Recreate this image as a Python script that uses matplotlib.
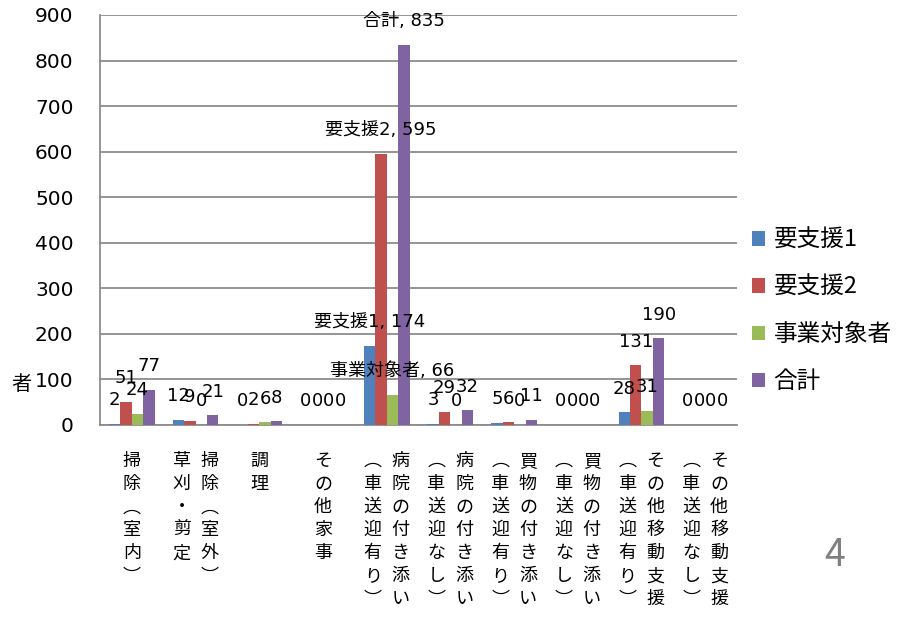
import matplotlib
matplotlib.use('Agg')
import matplotlib.pyplot as plt
import numpy as np

plt.rcParams['font.family'] = ['Noto Sans CJK JP', 'DejaVu Sans']
LATIN_FIRST = ['DejaVu Sans', 'Noto Sans CJK JP']

# categories: '\n' separates label columns (read right-to-left, vertical writing)
categories = ['掃除（室内）', '掃除（室外）\n草刈・剪定', '調理', 'その他家事',
              '病院の付き添い\n（車送迎有り）', '病院の付き添い\n（車送迎なし）',
              '買物の付き添い\n（車送迎有り）', '買物の付き添い\n（車送迎なし）',
              'その他移動支援\n（車送迎有り）', 'その他移動支援\n（車送迎なし）']
series_names = ['要支援1', '要支援2', '事業対象者', '合計']
youshien1 = [2, 12, 0, 0, 174, 3, 5, 0, 28, 0]
youshien2 = [51, 9, 2, 0, 595, 29, 6, 0, 131, 0]
jigyou = [24, 0, 6, 0, 66, 0, 0, 0, 31, 0]
goukei = [77, 21, 8, 0, 835, 32, 11, 0, 190, 0]
named_label_category = 4  # labels show "series, value" for this category
yticks = [0, 100, 200, 300, 400, 500, 600, 700, 800, 900]

colors = ['#4F81BD', '#C0504D', '#9BBB59', '#8064A2']
data = [youshien1, youshien2, jigyou, goukei]

fig = plt.figure(figsize=(9.22, 6.17), dpi=100)
ax = fig.add_axes([100/922, (617-425)/617, (737-100)/922, (425-15)/617])

x = np.arange(len(categories))
w = 0.18
offsets = [-1.5*w, -0.5*w, 0.5*w, 1.5*w]
handles = []
for si, (vals, c, off) in enumerate(zip(data, colors, offsets)):
    b = ax.bar(x + off, vals, width=w, color=c, label=series_names[si], zorder=3)
    handles.append(b)
    for ci, v in enumerate(vals):
        txt = f'{series_names[si]}, {v}' if ci == named_label_category else f'{v}'
        ax.annotate(txt, xy=(ci + off, v), xytext=(0, 17), textcoords='offset points',
                    ha='center', va='center', fontsize=13, color='black',
                    family=LATIN_FIRST, annotation_clip=False, zorder=5)

ax.set_xlim(-0.5, len(categories) - 0.5)
ax.set_ylim(0, 900)
ax.set_yticks(yticks)
ax.set_yticklabels([str(t) for t in yticks], fontsize=14.5, family=LATIN_FIRST)
ax.set_xticks([])
ax.yaxis.grid(True, color='#8c8c8c', linewidth=1.3, zorder=0)
ax.set_axisbelow(True)
for s in ['top', 'right']:
    ax.spines[s].set_visible(False)
for s in ['left', 'bottom']:
    ax.spines[s].set_color('#8c8c8c')
    ax.spines[s].set_linewidth(1.3)
ax.tick_params(axis='y', direction='out', length=0, pad=19)

# vertical category labels
vmap = str.maketrans({'（': '︵', '）': '︶'})
for ci, cat in enumerate(categories):
    cols = cat.split('\n')
    n = len(cols)
    for k, col in enumerate(cols):
        # first column on the right
        dx = 0 if n == 1 else (10.0 if k == 0 else -10.0)
        for j, ch in enumerate(col.translate(vmap)):
            ax.annotate(ch, xy=(ci, 0), xycoords=('data', 'axes fraction'),
                        xytext=(dx, -(26.0 + j*16.6)), textcoords='offset points',
                        ha='center', va='center', fontsize=13, annotation_clip=False)

fig.text(21/922, 1 - 384/617, '者', fontsize=14.5, ha='center', va='center')

leg = ax.legend(handles=handles, loc='center left',
                bbox_to_anchor=(731/922, 1 - 311/617), bbox_transform=fig.transFigure,
                frameon=False, fontsize=17, handlelength=0.55, handleheight=0.55,
                handletextpad=0.35, labelspacing=1.02)

fig.text(835/922, 1 - 556/617, '4', fontsize=27, color='#808080', ha='center', va='center')

fig.savefig('out.png', dpi=100)
